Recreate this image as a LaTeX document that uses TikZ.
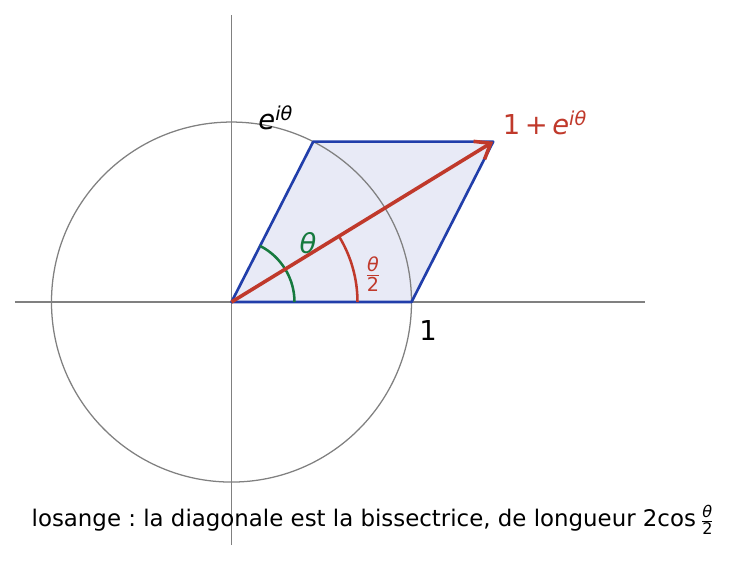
\documentclass[tikz,border=0pt]{standalone}
\usepackage{fontspec}
\setmainfont{DejaVu Sans}
\usepackage{amsmath}
\usetikzlibrary{calc,arrows.meta,positioning}
\definecolor{rhblue}{RGB}{33,62,170}
\definecolor{rhfill}{RGB}{232,234,246}
\definecolor{vecred}{RGB}{192,57,43}
\definecolor{angreen}{RGB}{22,122,62}
\newcommand{\thet}{\textit{θ}}
\frenchspacing
\begin{document}
\begin{tikzpicture}[scale=3]

  % Styles
  \tikzstyle{axis}=[draw=gray,line width=0.6pt]
  \tikzstyle{rhombus}=[draw=rhblue,fill=rhfill,line width=1.25pt,line join=round]
  \tikzstyle{vec}=[draw=vecred,line width=1.7pt,-{Straight Barb[length=6.5pt,width=10pt,line width=1.7pt]}]
  \tikzstyle{anglearc}=[line width=1.2pt]
  \tikzstyle{lbl}=[font=\fontsize{13}{15}\selectfont,inner sep=1pt]

  % ===========================================================================

  \useasboundingbox (-1.286,-1.439) rectangle (2.775,1.678);

  % Points
  \coordinate (O) at (0,0);
  \coordinate (A) at (1,0);
  \coordinate (B) at (63:1);
  \coordinate (C) at ($(A)+(B)$);

  % Rhombus fill
  \fill[rhfill] (O) -- (A) -- (C) -- (B) -- cycle;

  % Axes and unit circle
  \draw[axis] (-1.203,0) -- (2.297,0);
  \draw[axis] (0,-1.35) -- (0,1.594);
  \draw[axis] (O) circle (1);

  % Rhombus edges
  \draw[rhombus,fill=none] (O) -- (A) -- (C) -- (B) -- cycle;

  % Angles
  \draw[anglearc,angreen] (0.35,0) arc (0:63:0.35);
  \draw[anglearc,vecred] (0.7,0) arc (0:31.5:0.7);

  % Diagonal
  \draw[vec] (O) -- (C);

  % Labels
  \node[lbl] (eit) at (0.247,1.022) {\textit{e}\textsuperscript{\textit{i}\thet}};
  \node[lbl,text=vecred] (sum) at (1.742,0.994) {1\,+\,\textit{e}\textsuperscript{\textit{i}\thet}};
  \node[lbl] (one) at (1.092,-0.156) {1};
  \node[lbl,text=angreen] (th) at (0.425,0.328) {\thet};
  \node[lbl,text=vecred] (half) at (0.786,0.156) {$\frac{\text{\thet}}{\text{2}}$};
  \node[font=\fontsize{10.85}{13}\selectfont,inner sep=1pt] (caption) at (0.788,-1.211)
    {losange : la diagonale est la bissectrice, de longueur 2cos\,$\frac{\text{\thet}}{\text{2}}$};

\end{tikzpicture}
\end{document}
